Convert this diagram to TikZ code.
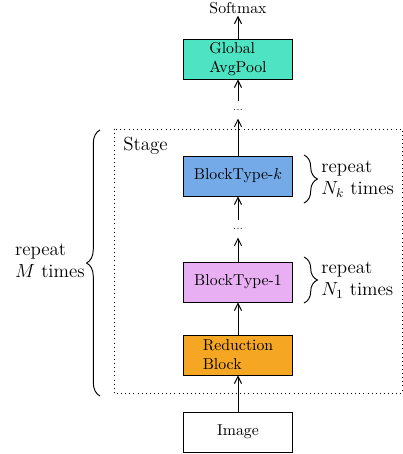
\documentclass[tikz,border=0pt]{standalone}
\usetikzlibrary{decorations.pathreplacing,arrows.meta}
\definecolor{cteal}{RGB}{78,227,194}
\definecolor{cblue}{RGB}{116,170,232}
\definecolor{cpink}{RGB}{232,176,242}
\definecolor{corange}{RGB}{245,167,35}
\tikzset{
  blk/.style={draw=black, line width=0.6pt, minimum width=69pt, minimum height=25.3pt, inner sep=2pt, align=left},
  dotsnode/.style={inner sep=0pt, minimum height=10.5pt, font=\fontsize{6}{7}\selectfont},
  arr/.style={-{Straight Barb[length=4.5pt,width=4.5pt]}, line width=0.6pt},
  brc/.style={decorate, decoration={brace, amplitude=8.5pt}, line width=0.6pt},
  lbl/.style={font=\large, align=left, inner sep=0pt},
}
\begin{document}
\begin{tikzpicture}[x=0.633pt, y=-0.633pt]
\useasboundingbox (0,0) rectangle (403,454);
% stage frame
\draw[dotted, line width=0.6pt] (114,129) rectangle (402,393);
\node[lbl, anchor=base west] (stage) at (123,150) {Stage};
% blocks
\node[inner sep=1pt] (soft) at (238,8) {Softmax};
\node[blk, fill=cteal] (gap) at (238,59) {Global\\AvgPool};
\node[dotsnode] (d2) at (238,110) {...};
\node[blk, fill=cblue] (btk) at (238,176) {BlockType-$k$};
\node[dotsnode] (d1) at (238,229) {...};
\node[blk, fill=cpink] (bt1) at (238,282) {BlockType-1};
\node[blk, fill=corange] (red) at (238,355) {Reduction\\Block};
\node[blk, fill=white] (img) at (238,432) {Image};
% arrows
\draw[arr] (img) -- (red);
\draw[arr] (red) -- (bt1);
\draw[arr] (bt1) -- (d1);
\draw[arr] (d1) -- (btk);
\draw[arr] (btk) -- (d2);
\draw[arr] (d2) -- (gap);
\draw[arr] (gap) -- (soft);
% small braces
\node[lbl, anchor=west] (lk) at (321,179) {repeat\\$N_k$ times};
\node[lbl, anchor=west] (l1) at (321,280) {repeat\\$N_1$ times};
\coordinate (bk1) at (304,155);
\coordinate (bk2) at (304,203);
\coordinate (b11) at (304,257);
\coordinate (b12) at (304,303);
\draw[brc] (bk1) -- (bk2);
\draw[brc] (b11) -- (b12);
% big brace
\coordinate (bm1) at (100,396);
\coordinate (bm2) at (100,130);
\draw[brc] (bm1) -- (bm2);
\node[lbl, anchor=east] (lm) at (85,261) {repeat\\$M$ times};
\end{tikzpicture}
\end{document}
